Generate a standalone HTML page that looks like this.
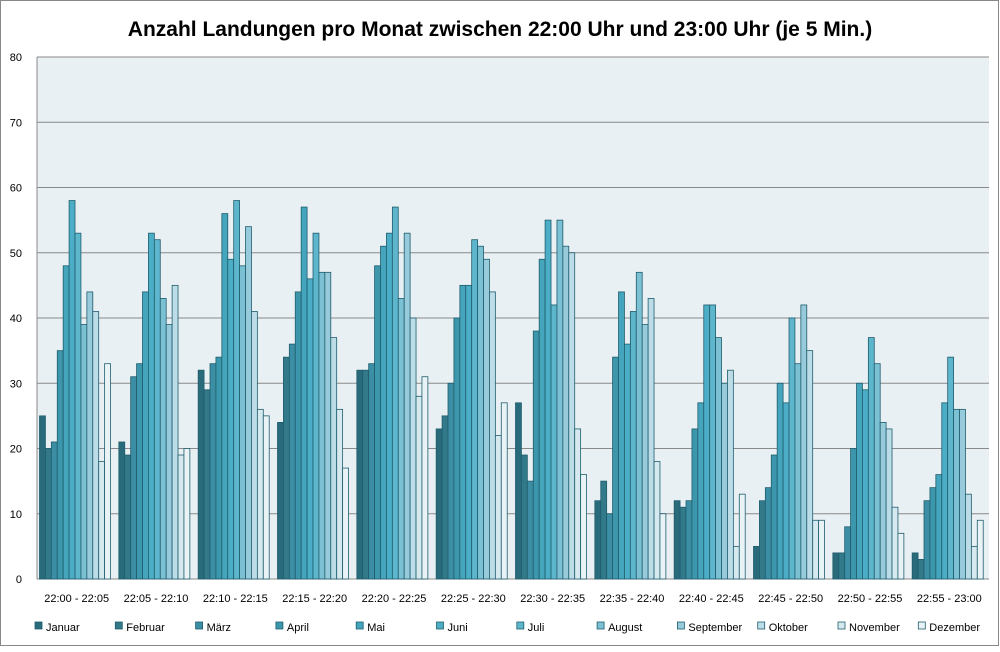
<!DOCTYPE html>
<html><head><meta charset="utf-8"><style>
body{margin:0;background:#fff}
svg text{font-family:"Liberation Sans",sans-serif}
</style></head><body>
<svg id="c" width="1000" height="647" xmlns="http://www.w3.org/2000/svg"></svg>
<script>
const data=[[25,20,21,35,48,58,53,39,44,41,18,33],[21,19,31,33,44,53,52,43,39,45,19,20],[32,29,33,34,56,49,58,48,54,41,26,25],[24,34,36,44,57,46,53,47,47,37,26,17],[32,32,33,48,51,53,57,43,53,40,28,31],[23,25,30,40,45,45,52,51,49,44,22,27],[27,19,15,38,49,55,42,55,51,50,23,16],[12,15,10,34,44,36,41,47,39,43,18,10],[12,11,12,23,27,42,42,37,30,32,5,13],[5,12,14,19,30,27,40,33,42,35,9,9],[4,4,8,20,30,29,37,33,24,23,11,7],[4,3,12,14,16,27,34,26,26,13,5,9]];
const cols=["#2a6b7b","#327a8a","#3b8ea3","#3c97ad","#45a5bd","#4baec6","#5eb6cc","#7cc0d3","#97cbdb","#bcdde7","#d6e9ef","#e9f3f6"];
const names=["Januar","Februar","März","April","Mai","Juni","Juli","August","September","Oktober","November","Dezember"];
const cats=["22:00 - 22:05","22:05 - 22:10","22:10 - 22:15","22:15 - 22:20","22:20 - 22:25","22:25 - 22:30","22:30 - 22:35","22:35 - 22:40","22:40 - 22:45","22:45 - 22:50","22:50 - 22:55","22:55 - 23:00"];
let s='<rect x="0.5" y="0.5" width="998" height="645" fill="#fff" stroke="#888"/>';
s+='<text x="500" y="36" text-anchor="middle" font-size="21" font-weight="bold">Anzahl Landungen pro Monat zwischen 22:00 Uhr und 23:00 Uhr (je 5 Min.)</text>';
const L=37,R=989,T=57,B=579,k=(B-T)/80;
s+=`<rect x="${L}" y="${T}" width="${R-L}" height="${B-T}" fill="#e8f0f3"/>`;
for(let v=0;v<=80;v+=10){const y=B-v*k;s+=`<line x1="${L}" x2="${R}" y1="${y}" y2="${y}" stroke="#8a8a8a" stroke-width="1"/>`;s+=`<text x="22" y="${y+4}" text-anchor="end" font-size="11">${v}</text>`;}
s+=`<line x1="${L}" x2="${L}" y1="${T}" y2="${B}" stroke="#8a8a8a"/>`;
const P=(R-L)/12,w=5.92;
data.forEach((g,i)=>{const x0=L+i*P+2.5;g.forEach((v,j)=>{const h=v*k;s+=`<rect x="${x0+j*w}" y="${B-h}" width="${w}" height="${h}" fill="${cols[j]}" stroke="#1f5d6d" stroke-width="0.8"/>`;});
s+=`<text x="${L+i*P+P/2}" y="602" text-anchor="middle" font-size="11">${cats[i]}</text>`;});
names.forEach((n,j)=>{const x=35+j*80.3;s+=`<rect x="${x}" y="622" width="7" height="7" fill="${cols[j]}" stroke="#1f5d6d" stroke-width="0.8"/><text x="${x+11}" y="631" font-size="11">${n}</text>`;});
document.getElementById('c').innerHTML=s;
</script>
</body></html>
